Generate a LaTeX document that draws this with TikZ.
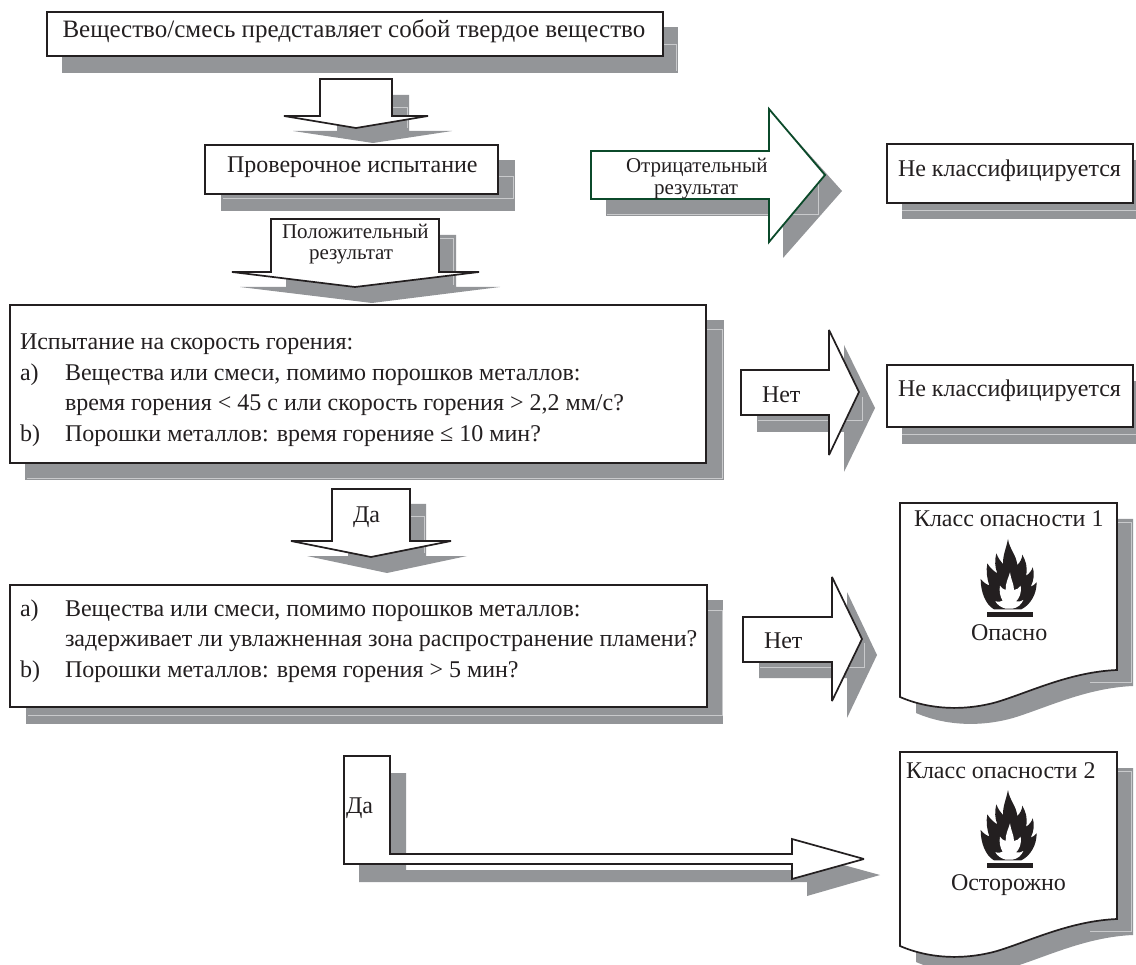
\documentclass[tikz,border=0pt]{standalone}
\usepackage{fontspec}
\setmainfont{Liberation Serif}
\definecolor{ink}{HTML}{231F20}
\definecolor{shade}{HTML}{939598}
\definecolor{rim}{HTML}{C9CACC}
\definecolor{leaf}{HTML}{0B4A2A}
\tikzset{
  boxst/.style={draw=ink,line width=1.9pt,fill=white,inner sep=0pt,outer sep=0pt,anchor=north west},
  shadest/.style={fill=shade,draw=none},
  rimst/.style={draw=rim,line width=0.8pt},
  arrowst/.style={draw=ink,line width=1.7pt,fill=white,line join=miter,miter limit=3},
  greenst/.style={draw=leaf,line width=1.8pt,fill=white,line join=miter,miter limit=3},
  txt/.style={text=ink,inner sep=0pt,outer sep=0pt,anchor=base west,font=\fontsize{24}{28}\selectfont},
  headtxt/.style={txt,font=\fontsize{25}{29}\selectfont},
  smalltxt/.style={txt,font=\fontsize{21}{25}\selectfont},
}
\newcommand{\docshape}{(900,503) -- (1117,503) -- (1117,670) .. controls (1070,672) and (1030,692) .. (997,702) .. controls (965,711) and (930,710) .. (900,697) -- cycle}
\newcommand{\flameshape}[2]{%
  \begin{scope}[shift={(#1,#2)},x=0.3333pt,y=-0.3333pt,shift={(-172,-25)}]
    \fill[ink] (172,25) .. controls (176,55) and (196,70) .. (200,103)
      .. controls (208,95) and (214,85) .. (215,72)
      .. controls (225,90) and (232,110) .. (226,135)
      .. controls (235,130) and (243,120) .. (246,110)
      .. controls (252,125) and (250,150) .. (240,168)
      .. controls (248,165) and (254,160) .. (258,155)
      .. controls (258,190) and (240,222) .. (212,236)
      -- (130,236)
      .. controls (105,222) and (90,185) .. (90,145)
      .. controls (98,155) and (108,162) .. (116,164)
      .. controls (108,140) and (106,120) .. (110,98)
      .. controls (118,112) and (130,122) .. (140,128)
      .. controls (132,110) and (132,88) .. (137,68)
      .. controls (142,82) and (150,92) .. (157,100)
      .. controls (156,75) and (166,55) .. (172,25) -- cycle;
    \fill[white] (178,125) .. controls (180,145) and (190,160) .. (190,178)
      .. controls (198,178) and (205,172) .. (210,165)
      .. controls (214,185) and (205,205) .. (196,212)
      .. controls (204,214) and (212,212) .. (218,208)
      .. controls (212,222) and (200,232) .. (185,234)
      -- (165,234)
      .. controls (150,230) and (140,222) .. (134,212)
      .. controls (142,214) and (150,214) .. (156,210)
      .. controls (148,198) and (145,180) .. (148,165)
      .. controls (152,172) and (158,176) .. (165,178)
      .. controls (164,158) and (172,145) .. (178,125) -- cycle;
  \end{scope}}
\begin{document}
\begin{tikzpicture}[x=1pt,y=-1pt]
\useasboundingbox (0,0) rectangle (1136,965);
\fill[white] (0,0) rectangle (1136,965);
\begin{scope}
\clip (0,0) rectangle (1136,965);
% ---- shadows
\fill[shadest] (62,27) rectangle (678,73);
\draw[rimst] (664,44) -- (676,44) -- (676,71);
\fill[shadest] (221,160) rectangle (515,211);
\draw[rimst] (498,176) -- (513,176) -- (513,198) -- (223,198);
\fill[shadest] (337,95) -- (409,95) -- (409,131) -- (452,131) -- (373,143) -- (293,131) -- (337,131) -- cycle;
\draw[rimst] (392,107) -- (407,107) -- (407,128);
\fill[shadest] (286,235) -- (456,235) -- (456,287) -- (500,287) -- (372,303) -- (240,287) -- (286,287) -- cycle;
\draw[rimst] (439,238) -- (453,238) -- (453,285);
\fill[shadest] (25,320) rectangle (724,480);
\draw[rimst] (706,329) -- (722,329) -- (722,478) -- (27,478);
\fill[shadest] (606,167) -- (783,167) -- (783,125) -- (842,191) -- (783,258) -- (783,216) -- (606,216) -- cycle;
\draw[rimst] (607,214) -- (818,214) -- (818,180);
\fill[shadest] (902,160) rectangle (1136,219);
\draw[rimst] (902,210) -- (1136,210);
\fill[shadest] (757,386) -- (844,386) -- (844,345) -- (875,408) -- (844,472) -- (844,432) -- (757,432) -- cycle;
\draw[rimst] (758,420) -- (862,420) -- (862,397);
\fill[shadest] (902,381) rectangle (1136,444);
\draw[rimst] (902,434) -- (1136,434);
\fill[shadest] (348,504) -- (426,504) -- (426,556) -- (467,556) -- (387,573) -- (307,556) -- (348,556) -- cycle;
\draw[rimst] (410,516) -- (424,516) -- (424,553);
\fill[shadest] (26,600) rectangle (723,724);
\draw[rimst] (707,610) -- (722,610) -- (722,715) -- (28,715);
\fill[shadest] (759,633) -- (847,633) -- (847,592) -- (877,655) -- (847,718) -- (847,678) -- (759,678) -- cycle;
\draw[rimst] (760,667) -- (864,667) -- (864,643);
\fill[shadest] (359,773) -- (406,773) -- (406,870) -- (807,870) -- (807,855) -- (880,875) -- (807,896) -- (807,882) -- (359,882) -- cycle;
\begin{scope}[shift={(16,16)}]
  \fill[shadest] \docshape;
\end{scope}
\draw[rimst] (1117,522) -- (1131,522) -- (1131,682) -- (1090,682);
\begin{scope}[shift={(16,265)}]
  \fill[shadest] \docshape;
\end{scope}
\draw[rimst] (1117,771) -- (1131,771) -- (1131,931) -- (1090,931);
\end{scope}
% ---- block arrows
\draw[arrowst] (320,79) -- (392,79) -- (392,116) -- (428,116) -- (356,128) -- (284,116) -- (320,116) -- cycle;
\draw[arrowst] (271,219) -- (439,219) -- (439,272) -- (479,272) -- (355,287) -- (232,272) -- (271,272) -- cycle;
\draw[greenst] (591,151) -- (769,151) -- (769,109) -- (825,175) -- (769,242) -- (769,199) -- (591,199) -- cycle;
\draw[arrowst] (741,370) -- (829,370) -- (829,330) -- (859,392) -- (829,455) -- (829,415) -- (741,415) -- cycle;
\draw[arrowst] (332,489) -- (410,489) -- (410,541) -- (451,541) -- (371,557) -- (291,541) -- (332,541) -- cycle;
\draw[arrowst] (743,617) -- (832,617) -- (832,577) -- (862,639) -- (832,701) -- (832,662) -- (743,662) -- cycle;
\draw[arrowst] (344,756) -- (390,756) -- (390,854) -- (792,854) -- (792,839) -- (864,859) -- (792,879) -- (792,864) -- (344,864) -- cycle;
% ---- boxes
\node[boxst,minimum width=616pt,minimum height=44pt] (box1) at (47,12) {};
\node[boxst,minimum width=293pt,minimum height=49pt] (box2) at (205,145) {};
\node[boxst,minimum width=696pt,minimum height=158pt] (box3) at (10,305) {};
\node[boxst,minimum width=246pt,minimum height=59pt] (box4) at (887,144) {};
\node[boxst,minimum width=246pt,minimum height=62pt] (box5) at (887,365) {};
\node[boxst,minimum width=697pt,minimum height=122pt] (box6) at (10,585) {};
\draw[draw=ink,line width=1.7pt,fill=white] \docshape;
\begin{scope}[shift={(0,249)}]
  \draw[draw=ink,line width=1.7pt,fill=white] \docshape;
\end{scope}
% ---- texts
\node[headtxt] (t1) at (62.5,38) {Вещество/смесь представляет собой твердое вещество};
\node[txt] (t2) at (227,173) {Проверочное испытание};
\node[smalltxt] (t3) at (282,239) {Положительный};
\node[smalltxt] (t4) at (309,260) {результат};
\node[smalltxt] (t5) at (626,173) {Отрицательный};
\node[smalltxt] (t6) at (654,195) {результат};
\node[txt] (t7) at (898,177) {Не классифицируется};
\node[txt] (t8) at (898,397) {Не классифицируется};
\node[txt] (t9) at (20,350) {Испытание на скорость горения:};
\node[txt] (t10) at (20,381) {a)};
\node[txt] (t11) at (65,381) {Вещества или смеси, помимо порошков металлов:};
\node[txt] (t12) at (65,411) {время горения < 45 с или скорость горения > 2,2 мм/с?};
\node[txt] (t13) at (20,442) {b)};
\node[txt] (t14) at (65,442) {Порошки металлов: время горенияе ≤ 10 мин?};
\node[txt] (t15) at (762,403) {Нет};
\node[txt] (t16) at (353,522) {Да};
\node[txt] (t17) at (20,616) {a)};
\node[txt] (t18) at (65,616) {Вещества или смеси, помимо порошков металлов:};
\node[txt] (t19) at (65,646) {задерживает ли увлажненная зона распространение пламени?};
\node[txt] (t20) at (20,677) {b)};
\node[txt] (t21) at (65,677) {Порошки металлов: время горения > 5 мин?};
\node[txt] (t22) at (764,648) {Нет};
\node[txt] (t23) at (346,813) {Да};
\node[txt] (t24) at (914,527) {Класс опасности 1};
\node[txt] (t25) at (971,640) {Опасно};
\node[txt] (t26) at (906,778) {Класс опасности 2};
\node[txt] (t27) at (951,890) {Осторожно};
% ---- flames
\flameshape{1008}{539}
\fill[ink] (987,612) rectangle (1033,617);
\flameshape{1008}{790}
\fill[ink] (987,863) rectangle (1033,868);
\end{tikzpicture}
\end{document}
